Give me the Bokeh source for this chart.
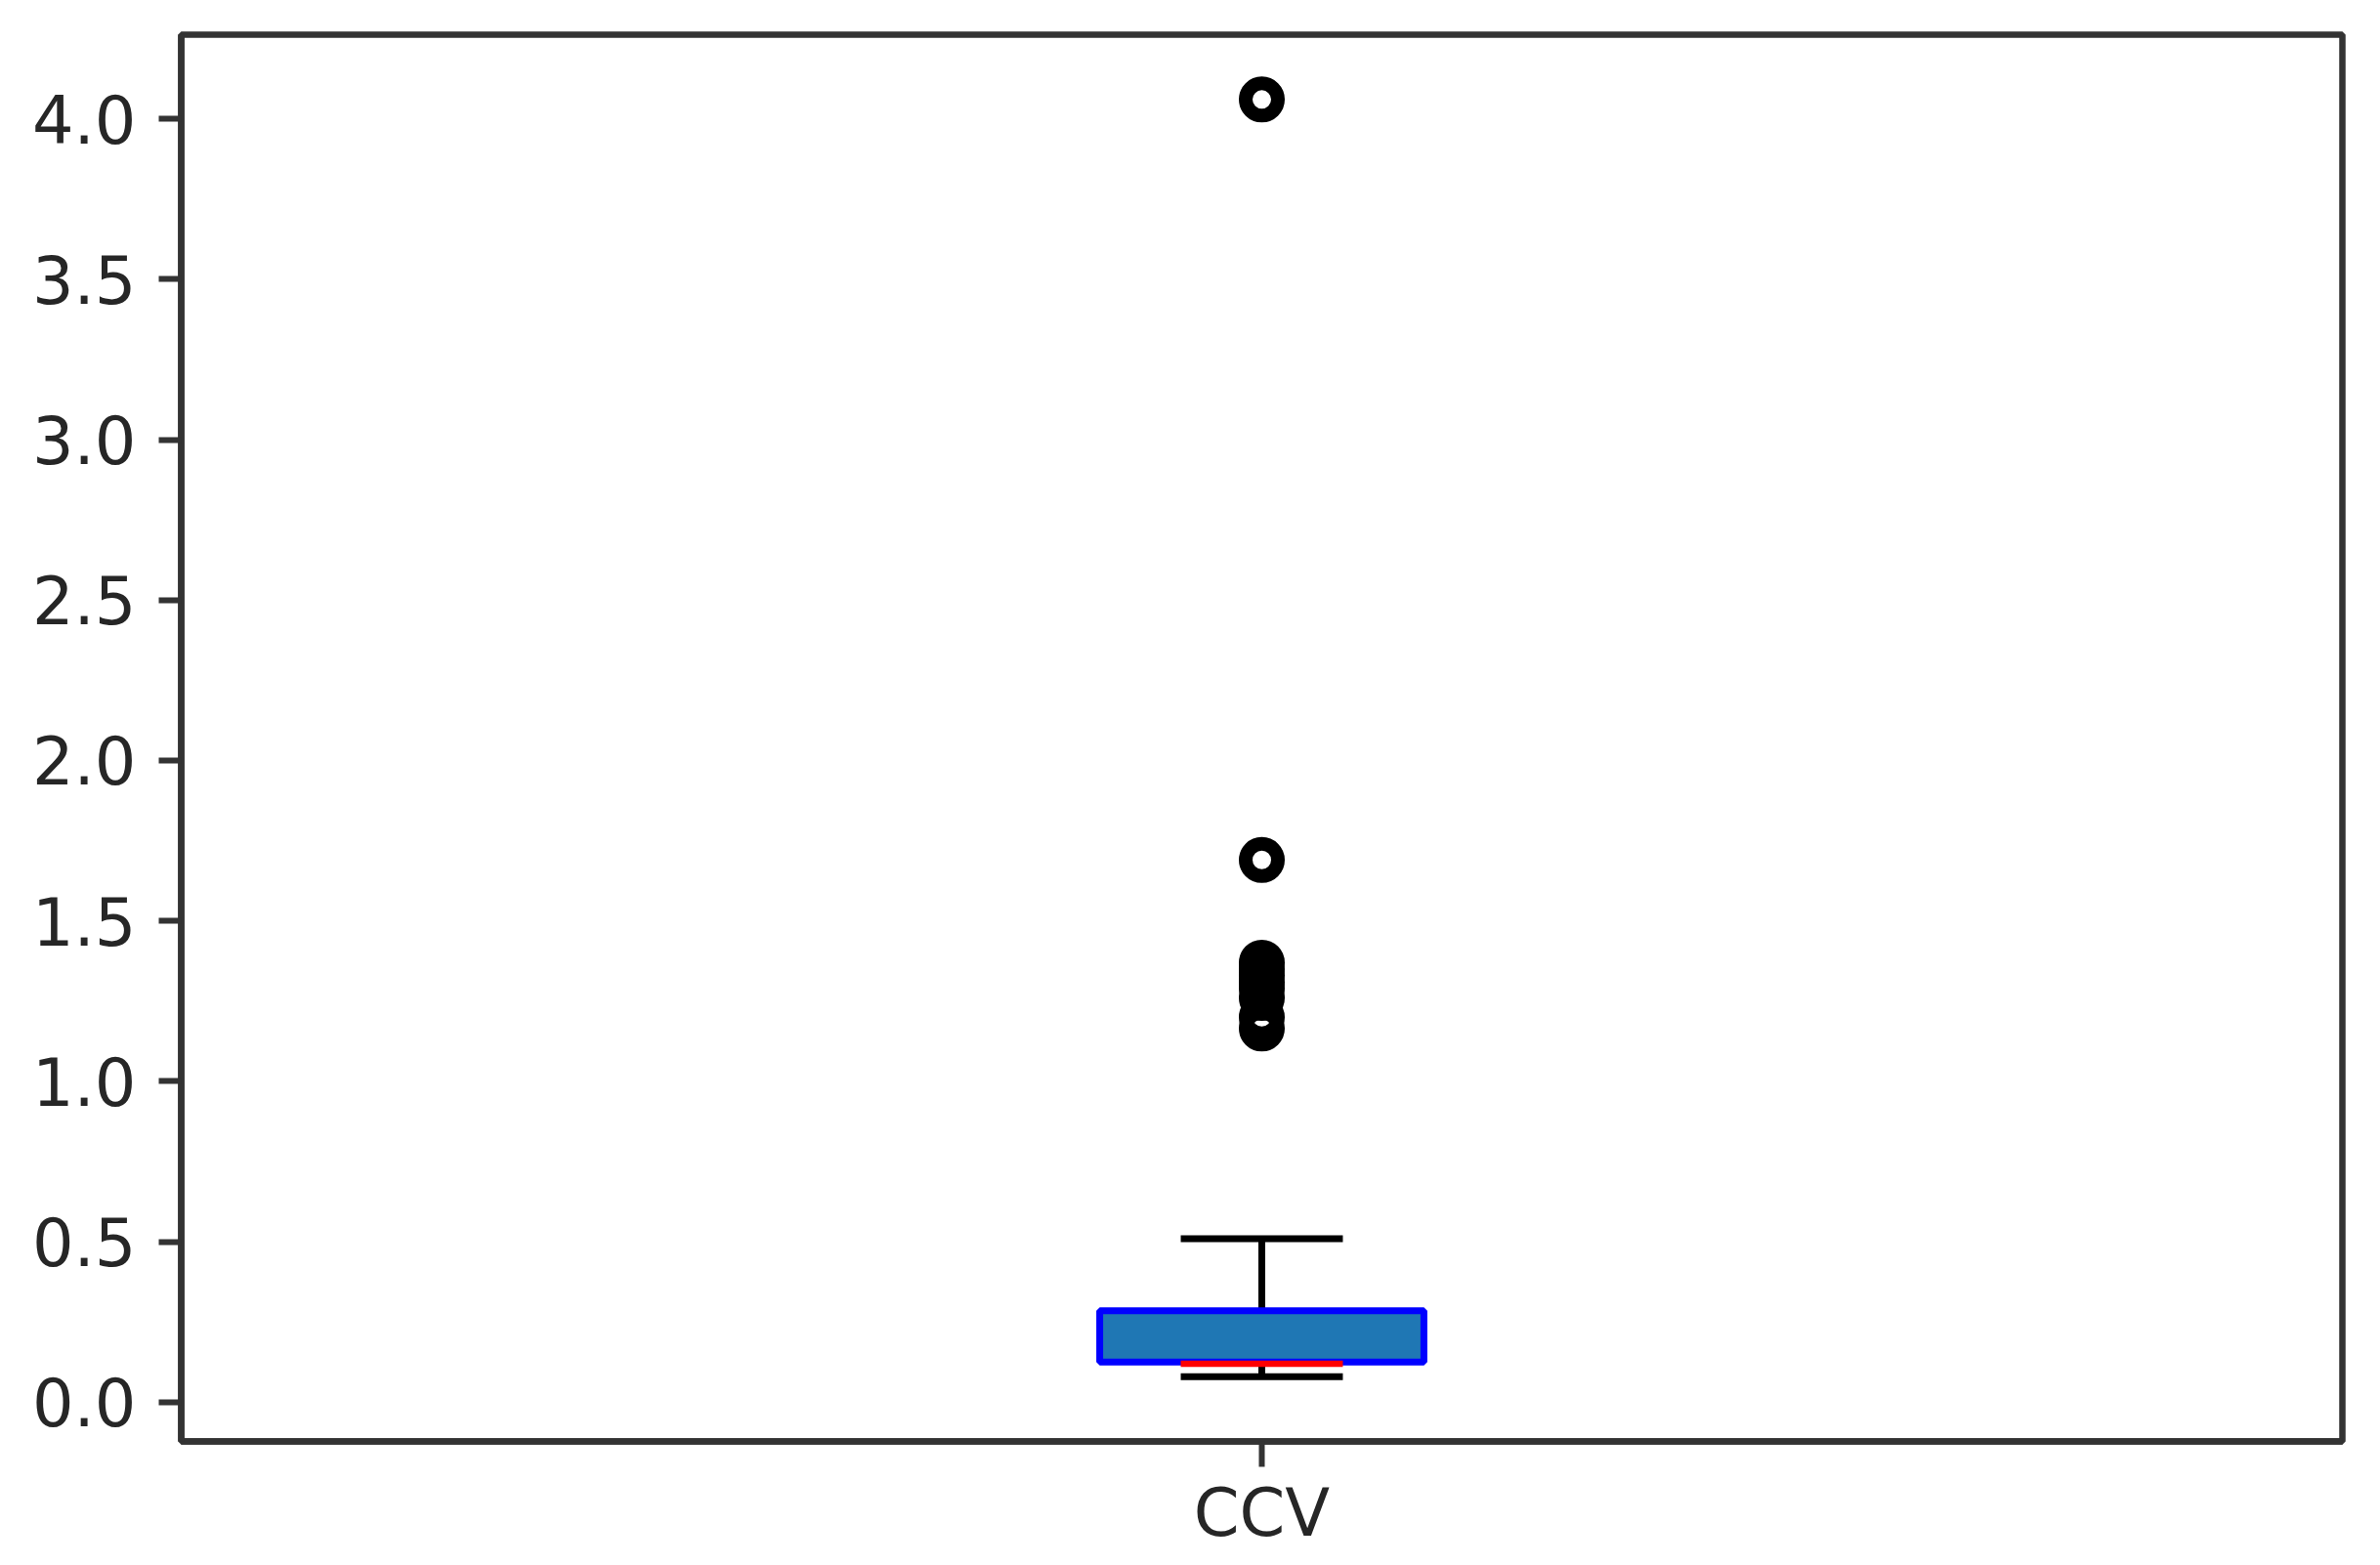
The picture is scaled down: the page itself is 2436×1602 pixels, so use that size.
from bokeh.plotting import figure
from bokeh.models import Range1d, FixedTicker, PrintfTickFormatter
from bokeh.embed import file_html
from bokeh.resources import INLINE

# ---- data ----
categories = ["CCV"]
positions = [1]
q1 = [0.125]
median = [0.12]
q3 = [0.285]
whisker_low = [0.08]
whisker_high = [0.51]
outliers = [4.06, 1.69, 1.37, 1.35, 1.33, 1.31, 1.29, 1.26, 1.20, 1.165]
y_ticks = [0.0, 0.5, 1.0, 1.5, 2.0, 2.5, 3.0, 3.5, 4.0]

box_half = 0.075
cap_half = 0.0375

p = figure(width=2420, height=1594, output_backend="svg", toolbar_location=None,
           x_range=Range1d(0.5, 1.5), y_range=Range1d(-0.122, 4.262),
           min_border_left=185, min_border_right=23, min_border_top=35, min_border_bottom=119)
p.background_fill_color = "white"
p.border_fill_color = "white"
p.grid.visible = False
p.outline_line_color = "#333333"
p.outline_line_width = 6.5

spine = "#333333"
lab = "#262626"
for ax in (p.xaxis[0], p.yaxis[0]):
    ax.axis_line_color = spine
    ax.axis_line_width = 6.5
    ax.major_tick_line_color = spine
    ax.major_tick_line_width = 6
    ax.major_tick_in = 0
    ax.minor_tick_line_color = None
    ax.major_label_text_font = "DejaVu Sans"
    ax.major_label_text_font_size = "67px"
    ax.major_label_text_color = lab

p.yaxis.ticker = FixedTicker(ticks=y_ticks)
p.yaxis.formatter = PrintfTickFormatter(format="%.1f")
p.yaxis.major_tick_out = 23
p.yaxis.major_label_standoff = 23

p.xaxis.ticker = FixedTicker(ticks=positions)
p.xaxis.major_label_overrides = {pos: c for pos, c in zip(positions, categories)}
p.xaxis.major_tick_out = 26
p.xaxis.major_label_standoff = 8

for i, pos in enumerate(positions):
    # whiskers
    p.segment(x0=[pos, pos], y0=[q3[i], q1[i]], x1=[pos, pos], y1=[whisker_high[i], whisker_low[i]],
              line_color="black", line_width=7)
    # caps
    p.segment(x0=[pos - cap_half, pos - cap_half], y0=[whisker_high[i], whisker_low[i]],
              x1=[pos + cap_half, pos + cap_half], y1=[whisker_high[i], whisker_low[i]],
              line_color="black", line_width=7)
    # box
    p.quad(left=[pos - box_half], right=[pos + box_half], bottom=[q1[i]], top=[q3[i]],
           fill_color="#1f77b4", line_color="#0000ff", line_width=7)
    # median
    p.segment(x0=[pos - cap_half], y0=[median[i]], x1=[pos + cap_half], y1=[median[i]],
              line_color="#ff0000", line_width=6.5)

# fliers
p.scatter(x=[positions[0]] * len(outliers), y=outliers, size=33, marker="circle",
          fill_color=None, line_color="black", line_width=14)

open("out.html", "w").write(file_html(p, INLINE))
